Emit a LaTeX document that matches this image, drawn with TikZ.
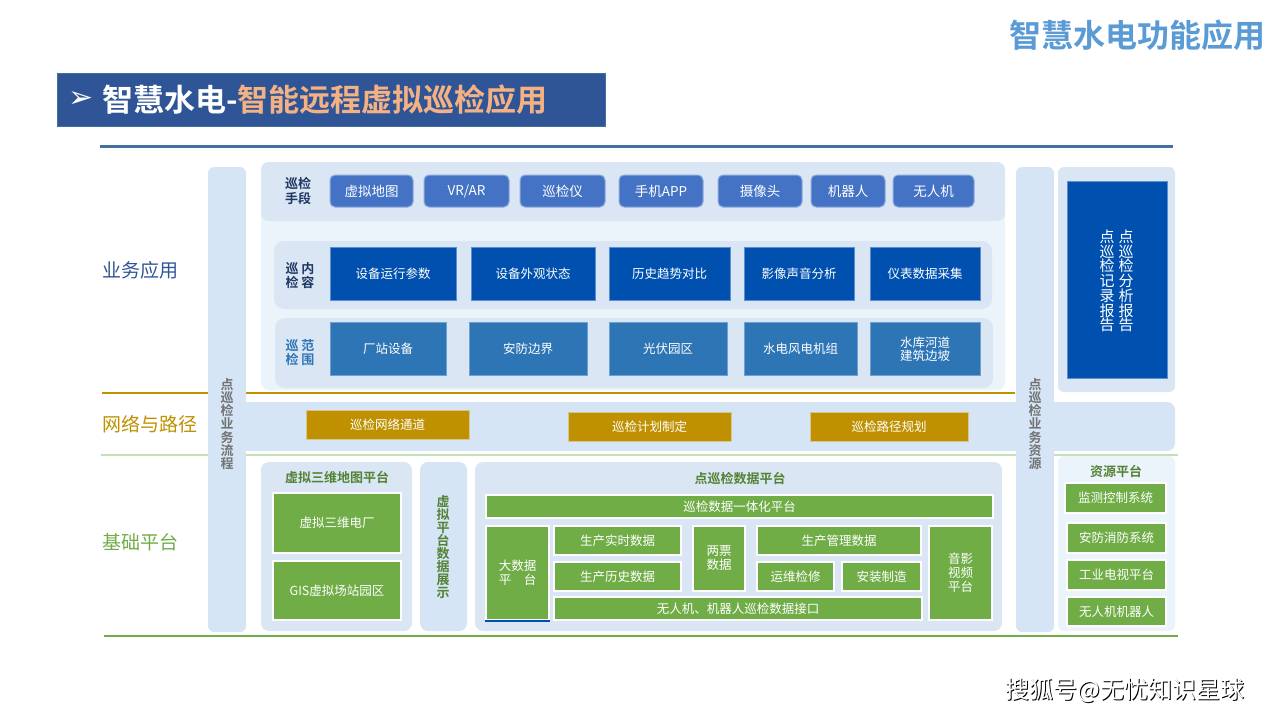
\documentclass[tikz,border=0pt]{standalone}
\usepackage{fontspec}
\setmainfont{Noto Sans CJK SC}[BoldFont=Noto Sans CJK SC Bold]
\newfontfamily\symfont{DejaVu Sans}
\usetikzlibrary{positioning}
\definecolor{barblue}{HTML}{D5E5F6}
\definecolor{paneldk}{HTML}{DAE6F4}
\definecolor{panellt}{HTML}{EBF3FB}
\definecolor{btnblue}{HTML}{4472C4}
\definecolor{btnedge}{HTML}{8FAADC}
\definecolor{deepblue}{HTML}{0050AF}
\definecolor{deepedge}{HTML}{5B8FD0}
\definecolor{midblue}{HTML}{2E75B6}
\definecolor{midedge}{HTML}{6FA0D4}
\definecolor{gold}{HTML}{BF9000}
\definecolor{goldedge}{HTML}{D9C68A}
\definecolor{leaf}{HTML}{70AD47}
\definecolor{leaflt}{HTML}{C5E0B4}
\definecolor{dgreen}{HTML}{548235}
\definecolor{navy}{HTML}{2F5597}
\definecolor{ink}{HTML}{1F3864}
\definecolor{lineblue}{HTML}{41719C}
\definecolor{peach}{HTML}{F4B183}
\definecolor{sky}{HTML}{5B9BD5}

\begin{document}
\begin{tikzpicture}[x=1pt, y=-1pt, font=\fontsize{12.5}{14}\selectfont,
  btn/.style={fill=btnblue, draw=btnedge, line width=1pt, rounded corners=5pt,
    text=white, inner sep=0pt, minimum height=32, font=\fontsize{13.5}{15}\selectfont},
  deepbox/.style={fill=deepblue, draw=deepedge, line width=0.8pt, text=white,
    inner sep=0pt, minimum height=53, align=center},
  midbox/.style={fill=midblue, draw=midedge, line width=0.8pt, text=white,
    inner sep=0pt, minimum height=53, align=center, font=\fontsize{12.5}{13.5}\selectfont},
  goldbox/.style={fill=gold, draw=goldedge, line width=1pt, text=white,
    inner sep=0pt, minimum height=29},
  gbox/.style={fill=leaf, draw=white, line width=2pt, text=white, inner sep=0pt,
    align=center, font=\fontsize{12.5}{14}\selectfont},
  vtext/.style={align=center, inner sep=0pt, font=\fontsize{13}{13.3}\selectfont},
  lbl/.style={anchor=west, inner sep=0pt, font=\fontsize{19}{21}\selectfont}]
  \useasboundingbox (0,0) rectangle (1280,720);

  % titles
  \node[anchor=east, inner sep=0pt, text=sky, font=\fontsize{32}{34}\bfseries] (head) at (1266,35) {智慧水电功能应用};
  \fill[navy, draw=lineblue, line width=1pt] (57,73) rectangle (605,126);
  \node[text=white, inner sep=0pt, font=\symfont\fontsize{30}{32}\selectfont] (arr) at (81,100) {➢};
  \node[anchor=west, inner sep=0pt, text=white, font=\fontsize{31}{33}\bfseries] (ttl) at (102,100)
    {智慧水电-\textcolor{peach}{智能远程虚拟巡检应用}};
  \draw[lineblue, line width=3pt] (100,146) -- (1173,146);

  % layer labels and rules
  \node[lbl, text=navy] (lay1) at (102,270) {业务应用};
  \node[lbl, text=gold] (lay2) at (102,424) {网络与路径};
  \node[lbl, text=leaf] (lay3) at (102,542) {基础平台};
  \draw[gold, line width=2.5pt] (102,393) -- (1015,393);
  \draw[leaflt, line width=2.5pt] (101,455) -- (1178,455);
  \draw[leaf, line width=2.5pt] (104,636) -- (1178,636);

  % panels
  \fill[panellt, rounded corners=8pt] (261,162) rectangle (1005,390);
  \fill[paneldk, rounded corners=8pt] (261,162) rectangle (1005,221);
  \fill[paneldk, rounded corners=10pt] (274,241) rectangle (992,309);
  \fill[paneldk, rounded corners=10pt] (275,318) rectangle (993,388);
  \fill[paneldk, rounded corners=6pt] (1058,167) rectangle (1175,392);
  \fill[barblue, rounded corners=8pt] (240,402) rectangle (1175,451);
  \fill[paneldk, rounded corners=8pt] (261,462) rectangle (412,631);
  \fill[barblue, rounded corners=8pt] (420,462) rectangle (467,631);
  \fill[paneldk, rounded corners=8pt] (475,462) rectangle (1002,631);
  \fill[panellt, rounded corners=6pt] (1058,456) rectangle (1175,631);
  \fill[barblue, rounded corners=6pt] (208,167) rectangle (246,632);
  \fill[barblue, rounded corners=6pt] (1016,167) rectangle (1054,632);
  \node[vtext, text=gray!90!black, font=\fontsize{13}{13.3}\bfseries] (flow) at (227,424) {点\\巡\\检\\业\\务\\流\\程};
  \node[vtext, text=gray!90!black, font=\fontsize{13}{13.3}\bfseries] (res) at (1035,424) {点\\巡\\检\\业\\务\\资\\源};

  % inspection means
  \node[align=center, inner sep=0pt, text=ink, font=\fontsize{13}{15}\bfseries] (means) at (298,191) {巡检\\手段};
  \foreach \a/\b/\t [count=\i] in {330/413/虚拟地图, 424/509/{VR/AR}, 520/605/巡检仪,
      619/703/手机APP, 718/802/摄像头, 811/885/机器人, 893/974/无人机}
    \node[btn, minimum width=\b-\a] (btn\i) at ({(\a+\b)/2},191) {\t};

  % inspection content
  \node[align=center, inner sep=0pt, text=ink, font=\fontsize{13}{14}\bfseries] (what) at (300,276) {巡\hspace{3pt}内\\检\hspace{3pt}容};
  \foreach \a/\b/\t [count=\i] in {330/456/设备运行参数, 471/595/设备外观状态, 609/730/历史趋势对比,
      744/854/影像声音分析, 870/980/仪表数据采集}
    \node[deepbox, minimum width=\b-\a] (cnt\i) at ({(\a+\b)/2},274) {\t};

  % inspection range
  \node[align=center, inner sep=0pt, text=midblue, font=\fontsize{13}{14}\bfseries] (where) at (300,353) {巡\hspace{3pt}范\\检\hspace{3pt}围};
  \foreach \a/\b/\t [count=\i] in {330/446/厂站设备, 469/587/安防边界, 609/727/光伏园区,
      744/857/水电风电机组, 870/980/水库河道\\建筑边坡}
    \node[midbox, minimum width=\b-\a] (rng\i) at ({(\a+\b)/2},349) {\t};

  % reports
  \fill[deepblue, draw=deepedge, line width=0.8pt] (1067,181) rectangle (1167,378);
  \node[vtext, text=white, font=\fontsize{15}{14.7}\selectfont] (rep1) at (1126,281) {点\\巡\\检\\分\\析\\报\\告};
  \node[vtext, text=white, font=\fontsize{15}{14.7}\selectfont] (rep2) at (1107,281) {点\\巡\\检\\记\\录\\报\\告};

  % network and path
  \foreach \a/\b/\y/\t [count=\i] in {306/469/425/巡检网络通道, 568/731/427/巡检计划制定, 810/968/427/巡检路径规划}
    \node[goldbox, minimum width=\b-\a] (net\i) at ({(\a+\b)/2},\y) {\t};

  % base platforms
  \node[inner sep=0pt, text=dgreen, font=\fontsize{13}{15}\bfseries] (map) at (337,477) {虚拟三维地图平台};
  \node[vtext, text=dgreen, font=\fontsize{13}{13.1}\bfseries] (show) at (443,547) {虚\\拟\\平\\台\\数\\据\\展\\示};
  \node[inner sep=0pt, text=dgreen, font=\fontsize{13}{15}\bfseries] (data) at (740,478) {点巡检数据平台};
  \node[inner sep=0pt, text=dgreen, font=\fontsize{13}{15}\bfseries] (pool) at (1116,471) {资源平台};
  \foreach \n/\a/\b/\c/\d/\t in {dm1/273/401/493/553/虚拟三维电厂, dm2/273/401/561/620/GIS虚拟场站园区,
      one/486/993/495/518/巡检数据一体化平台, big/486/549/526/620/大数据\\平\quad 台,
      live/554/681/526/555/生产实时数据, hist/554/681/562/591/生产历史数据,
      tick/693/745/526/591/两票\\数据, mgmt/757/921/526/555/生产管理数据,
      oper/757/834/562/591/运维检修, inst/842/921/562/591/安装制造,
      port/554/922/597/620/无人机、机器人巡检数据接口, av/929/992/526/620/音影\\视频\\平台,
      sys1/1065/1166/483/513/监测控制系统, sys2/1067/1166/523/553/安防消防系统,
      sys3/1067/1166/560/590/工业电视平台, sys4/1067/1166/597/626/无人机机器人}
    \node[gbox, minimum width=\b-\a, minimum height=\d-\c] (\n) at ({(\a+\b)/2},{(\c+\d)/2}) {\t};
  \draw[deepblue, line width=1.2pt] (big.south west) -- (big.south east);

  % watermark
  \node[inner sep=0pt, text=black, font=\fontsize{24}{26}\selectfont] (wm0) at (1126,691) {搜狐号@无忧知识星球};
  \node[inner sep=0pt, text=white, font=\fontsize{24}{26}\selectfont] (wm) at (1125,690) {搜狐号@无忧知识星球};
\end{tikzpicture}
\end{document}
